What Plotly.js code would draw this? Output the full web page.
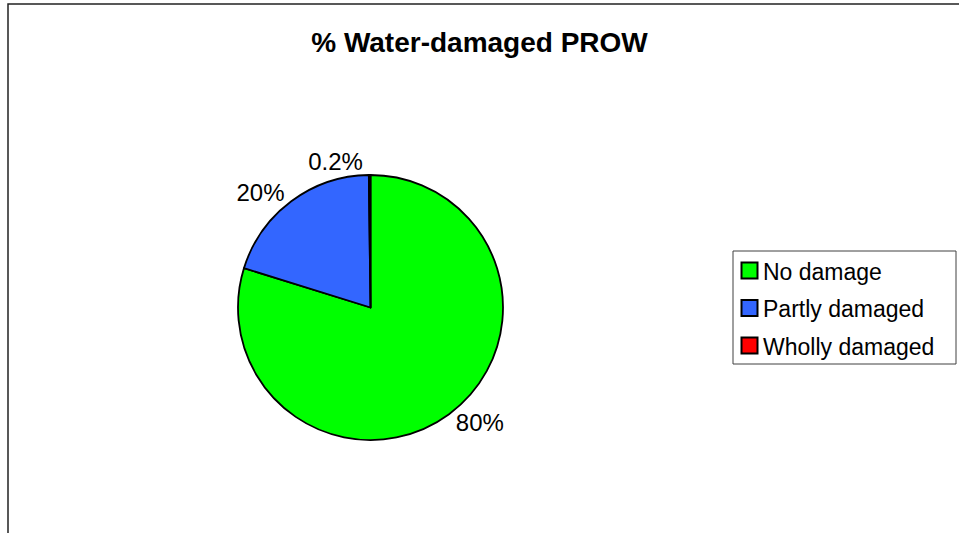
<!DOCTYPE html>
<html>
<head>
<meta charset="utf-8">
<script src="https://cdn.plot.ly/plotly-3.0.1.min.js"></script>
<style>
html,body{margin:0;padding:0;background:#fff;}
#chart{width:959px;height:533px;}
</style>
</head>
<body>
<div id="chart"></div>
<script>
// ---- data ----
var categories = ["No damage", "Partly damaged", "Wholly damaged"];
var values = [79.8, 20.0, 0.2];
var valueLabels = ["80%", "20%", "0.2%"];
var titleText = "% Water-damaged PROW";

// ---- styles ----
var sliceColors = ["#00FF00", "#3366FF", "#FF0000"];
var W = 959, H = 533;
var FONT = "Liberation Sans, Arial, sans-serif";
function px(x) { return x / W; }
function py(y) { return 1 - y / H; }

var trace = {
  type: "pie",
  labels: categories,
  values: values,
  text: valueLabels,
  textinfo: "text",
  textposition: "outside",
  sort: false,
  direction: "clockwise",
  rotation: 0,
  marker: { colors: sliceColors, line: { color: "#000000", width: 1.8 } },
  textfont: { family: FONT, size: 24, color: "#000000" },
  outsidetextfont: { family: FONT, size: 24, color: "#000000" },
  domain: { x: [px(238), px(503)], y: [py(440), py(175)] },
  showlegend: false,
  hoverinfo: "label+percent"
};

// custom legend (frame, swatches, labels) built from the category arrays
var shapes = [
  // outer chart border (left + top visible)
  { type: "rect", xref: "paper", yref: "paper", x0: px(8), x1: 1.2, y0: -0.2, y1: py(4),
    line: { color: "#222222", width: 1.5 }, fillcolor: "rgba(0,0,0,0)", layer: "above" },
  // legend frame
  { type: "rect", xref: "paper", yref: "paper", x0: px(733), x1: px(956), y0: py(364), y1: py(251),
    line: { color: "#404040", width: 1 }, fillcolor: "rgba(0,0,0,0)" }
];
var annotations = [];
var rowY0 = 270.5, rowStep = 37.5;
categories.forEach(function (c, i) {
  var cy = rowY0 + i * rowStep;
  shapes.push({ type: "rect", xref: "paper", yref: "paper",
    x0: px(741.5), x1: px(757.5), y0: py(cy + 8), y1: py(cy - 8),
    line: { color: "#000000", width: 2 }, fillcolor: sliceColors[i] });
  annotations.push({ xref: "paper", yref: "paper", x: px(761), y: py(cy + 1),
    xanchor: "left", yanchor: "middle", showarrow: false, text: c,
    font: { family: FONT, size: 23, color: "#000000" } });
});

var layout = {
  width: W, height: H,
  margin: { l: 0, r: 0, t: 0, b: 0 },
  paper_bgcolor: "#ffffff",
  plot_bgcolor: "#ffffff",
  title: {
    text: "<b>" + titleText + "</b>",
    x: 0.5, xref: "paper", xanchor: "center",
    y: py(42), yref: "container", yanchor: "middle",
    font: { family: FONT, size: 28, color: "#000000" }
  },
  showlegend: false,
  shapes: shapes,
  annotations: annotations
};

Plotly.newPlot("chart", [trace], layout, { displayModeBar: false, staticPlot: true });
</script>
</body>
</html>
